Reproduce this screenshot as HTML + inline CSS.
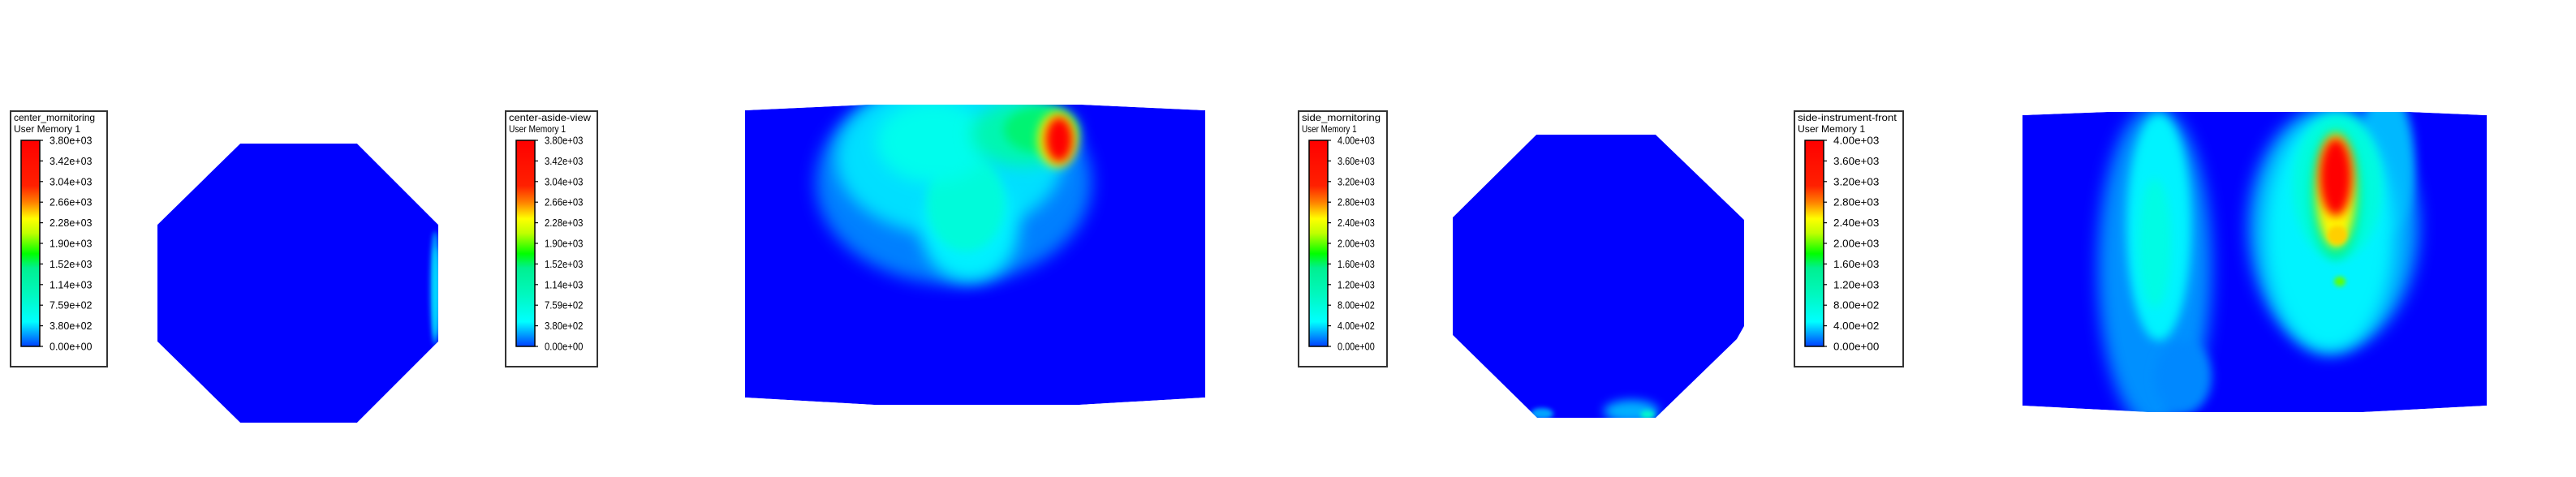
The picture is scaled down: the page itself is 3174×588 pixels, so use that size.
<!DOCTYPE html>
<html><head><meta charset="utf-8">
<style>
html,body{margin:0;padding:0;background:#fff;}
svg{display:block;}
text{font-family:"Liberation Sans",sans-serif;fill:#000;}
</style></head>
<body>
<svg id="root" width="3174" height="588" viewBox="0 0 3174 588" xmlns="http://www.w3.org/2000/svg">
<defs>
<linearGradient id="cmap" x1="0" y1="1" x2="0" y2="0">
<stop offset="0" stop-color="#0040ff"/>
<stop offset="0.06" stop-color="#00a0ff"/>
<stop offset="0.12" stop-color="#00ffff"/>
<stop offset="0.25" stop-color="#00f8c0"/>
<stop offset="0.38" stop-color="#00f090"/>
<stop offset="0.45" stop-color="#00ff00"/>
<stop offset="0.55" stop-color="#c0ff00"/>
<stop offset="0.62" stop-color="#ffff00"/>
<stop offset="0.7" stop-color="#ff8000"/>
<stop offset="0.78" stop-color="#ff2000"/>
<stop offset="1" stop-color="#ff0000"/>
</linearGradient>
<filter id="blurL" x="-50%" y="-50%" width="200%" height="200%"><feGaussianBlur stdDeviation="10"/></filter>
<filter id="blur" x="-50%" y="-50%" width="200%" height="200%"><feGaussianBlur stdDeviation="6"/></filter>
<filter id="blurS" x="-50%" y="-50%" width="200%" height="200%"><feGaussianBlur stdDeviation="3"/></filter>
</defs>
</svg>
<script>
// ---- data ----
var legendTitles = ["center_mornitoring","center-aside-view","side_mornitoring","side-instrument-front"];
var legendMax = [3800,3800,4000,4000];
var ticks1 = ["3.80e+03","3.42e+03","3.04e+03","2.66e+03","2.28e+03","1.90e+03","1.52e+03","1.14e+03","7.59e+02","3.80e+02","0.00e+00"];
var ticks2 = ["4.00e+03","3.60e+03","3.20e+03","2.80e+03","2.40e+03","2.00e+03","1.60e+03","1.20e+03","8.00e+02","4.00e+02","0.00e+00"];
// blobs: [cx, cy, rx, ry, value]
var blobs1 = [[536,355,6,70,250],[537,360,3,55,400]];
var blobs2 = [[1175,225,170,125,150],[1170,195,140,95,380],[1195,282,60,65,420],[1190,250,48,60,750],[1150,175,70,50,600],
              [1262,165,65,40,1100],[1282,160,45,28,1500],[1303,172,24,34,2300],[1305,172,17,28,3700]];
var blobs3 = [[1900,510,14,7,250],[2010,507,34,14,280],[2030,511,9,5,900]];
var blobs4 = [[2655,330,70,200,200],[2690,465,35,45,180],[2660,280,40,140,450],[2655,300,20,80,700],
              [2875,280,105,150,250],[2940,200,35,90,300],[2870,290,80,145,450],[2880,230,55,90,750],
              [2878,240,32,80,1400],[2878,235,24,70,2500],[2878,218,20,48,3900],[2880,290,12,12,2600],[2883,347,7,6,2000]];

var NS="http://www.w3.org/2000/svg";
var root=document.getElementById('root');
function mk(tag,attrs,parent){var e=document.createElementNS(NS,tag);for(var k in attrs)e.setAttribute(k,attrs[k]);(parent||root).appendChild(e);return e;}

var stops=[[0,[0,64,255]],[0.06,[0,160,255]],[0.12,[0,255,255]],[0.25,[0,248,192]],[0.38,[0,240,144]],[0.45,[0,255,0]],[0.55,[192,255,0]],[0.62,[255,255,0]],[0.7,[255,128,0]],[0.78,[255,32,0]],[1,[255,0,0]]];
function cmap(t){t=Math.max(0,Math.min(1,t));for(var i=1;i<stops.length;i++){if(t<=stops[i][0]){var a=stops[i-1],b=stops[i],f=(t-a[0])/(b[0]-a[0]);var c=a[1].map(function(v,j){return Math.round(v+(b[1][j]-v)*f);});return 'rgb('+c.join(',')+')';}}return 'rgb(255,0,0)';}

function legend(i,x,y,w,h,ticks,condensed){
  var g=mk('g',{});
  
  
  mk('rect',{x:x,y:y,width:w,height:h,fill:'#fff',stroke:'#333','stroke-width':2},g);
  var t1=mk('text',{x:x+4,y:y+12,'font-size':12},g);t1.textContent=legendTitles[i];
  
  
  if(condensed){t1.setAttribute('textLength',w-12);t1.setAttribute('lengthAdjust','spacingAndGlyphs');}
  var t2=mk('text',{x:x+4,y:y+26,'font-size':12},g);t2.textContent='User Memory 1';
  
  
  if(condensed){t2.setAttribute('textLength',w*0.62);t2.setAttribute('lengthAdjust','spacingAndGlyphs');}
  var bx=x+13,bw=23,by=y+36,bh=254;
  var bar=mk('rect',{x:bx,y:by,width:bw,height:bh,fill:'url(#cmap)',stroke:'#000','stroke-width':1.5},g);
  
  
  for(var k=0;k<ticks.length;k++){
    var ty=by+bh*k/(ticks.length-1);
    mk('line',{x1:bx+bw,x2:bx+bw+4,y1:ty,y2:ty,stroke:'#000','stroke-width':1.2},g);
    var tl=mk('text',{x:bx+bw+12,y:ty+4.5,'font-size':12.5},g);tl.textContent=ticks[k];
    
    
    if(condensed){tl.setAttribute('textLength',w*0.42);tl.setAttribute('lengthAdjust','spacingAndGlyphs');}
  }
}
function panel(idx,pts,blobs,max){
  var d='M'+pts.map(function(p){return p.join(',');}).join(' L')+' Z';
  var cp=mk('clipPath',{id:'clip'+idx},root.querySelector('defs'));
  mk('path',{d:d},cp);
  var g=mk('g',{'clip-path':'url(#clip'+idx+')'});
  
  
  mk('path',{d:d,fill:'#0000ff'},g);
  blobs.forEach(function(b){
    var f=b[2]<15?'url(#blurS)':(b[2]>=60?'url(#blurL)':'url(#blur)');
    var e=mk('ellipse',{cx:b[0],cy:b[1],rx:b[2],ry:b[3],fill:cmap(b[4]/max),filter:f},g);
    
    
  });
}
legend(0,13,137,119,315,ticks1,false);
legend(1,623,137,113,315,ticks1,true);
legend(2,1600,137,109,315,ticks2,true);
legend(3,2211,137,134,315,ticks2,true);

panel(1,[[296,177],[440,177],[540,277],[540,421],[440,521],[296,521],[194,421],[194,277]],blobs1,3800);
panel(2,[[918,136],[1070,129],[1333,129],[1485,136],[1485,490],[1330,499],[1077,499],[918,490]],blobs2,3800);
panel(3,[[1893,166],[2040,166],[2149,271],[2149,402],[2140,418],[2040,515],[1894,515],[1790,413],[1790,268]],blobs3,4000);
panel(4,[[2492,142],[2597,138],[2969,138],[3064,142],[3064,500],[2911,508],[2649,508],[2492,500]],blobs4,4000);
</script>
</body></html>
